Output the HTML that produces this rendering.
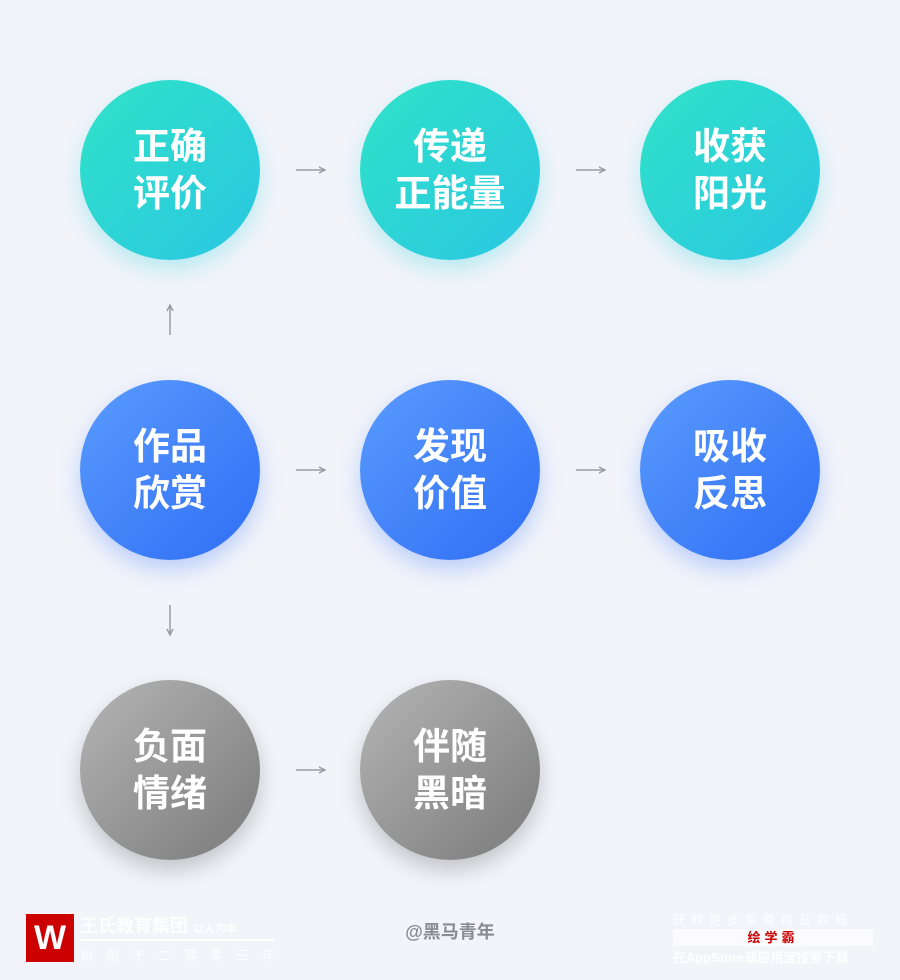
<!DOCTYPE html>
<html><head><meta charset="utf-8"><style>
body{margin:0;width:900px;height:980px;background:#f2f4fa;position:relative;overflow:hidden;font-family:"Liberation Sans","Noto Sans CJK SC",sans-serif}
.c{position:absolute;width:180px;height:180px;border-radius:50%;display:flex;align-items:center;justify-content:center;text-align:center;color:#fff;font-weight:bold;font-size:37px;line-height:47px}
.g{background:linear-gradient(135deg,#30e3c8,#2ac6e2);box-shadow:0 10px 22px rgba(40,210,220,.28)}
.b{background:linear-gradient(135deg,#5a9bfd,#2f6ef5);box-shadow:0 10px 22px rgba(60,120,250,.3)}
.k{background:linear-gradient(135deg,#b5b5b5,#7a7a7a);box-shadow:0 10px 22px rgba(0,0,0,.2)}
svg{position:absolute;left:0;top:0}
.f{color:rgba(255,255,255,.85)}
</style></head><body>
<div class="c g" style="left:80px;top:80px">正确<br>评价</div>
<div class="c g" style="left:360px;top:80px">传递<br>正能量</div>
<div class="c g" style="left:640px;top:80px">收获<br>阳光</div>
<div class="c b" style="left:80px;top:380px">作品<br>欣赏</div>
<div class="c b" style="left:360px;top:380px">发现<br>价值</div>
<div class="c b" style="left:640px;top:380px">吸收<br>反思</div>
<div class="c k" style="left:80px;top:680px">负面<br>情绪</div>
<div class="c k" style="left:360px;top:680px">伴随<br>黑暗</div>
<svg width="900" height="980" stroke="#9a9ca6" stroke-width="1.5" fill="none">
<path d="M296 170H324M319 167L325 170L319 173"/>
<path d="M576 170H604M599 167L605 170L599 173"/>
<path d="M296 470H324M319 467L325 470L319 473"/>
<path d="M576 470H604M599 467L605 470L599 473"/>
<path d="M296 770H324M319 767L325 770L319 773"/>
<path d="M170 335V306M167 311L170 305L173 311"/>
<path d="M170 605V634M167 629L170 635L173 629"/>
</svg>
<div style="position:absolute;left:26px;top:914px;width:48px;height:48px;background:#c00;color:#fff;font-weight:bold;font-size:34px;text-align:center;line-height:48px">W</div>
<div class="f" style="position:absolute;left:80px;top:912px;font-size:18px;font-weight:bold">王氏教育集团 <span style="font-size:11px">以人为本</span></div>
<div style="position:absolute;left:80px;top:939px;width:194px;height:2px;background:#fff"></div>
<div class="f" style="position:absolute;left:80px;top:945px;font-size:13px;letter-spacing:13px">始创于二零零三年</div>
<div style="position:absolute;left:400px;top:918px;width:100px;text-align:center;color:#8a8c94;font-size:18px;font-weight:bold">@黑马青年</div>
<div class="f" style="position:absolute;left:673px;top:911px;font-size:12px;letter-spacing:6px">获取更多免费精品教程</div>
<div style="position:absolute;left:673px;top:929px;width:200px;height:17px;background:#fbfbfd;color:#c00;font-size:13px;font-weight:bold;text-align:center;line-height:17px;letter-spacing:4px">绘学霸</div>
<div class="f" style="position:absolute;left:673px;top:947px;font-size:13px;font-weight:bold">在AppStore或应用宝搜索下载</div>
</body></html>
